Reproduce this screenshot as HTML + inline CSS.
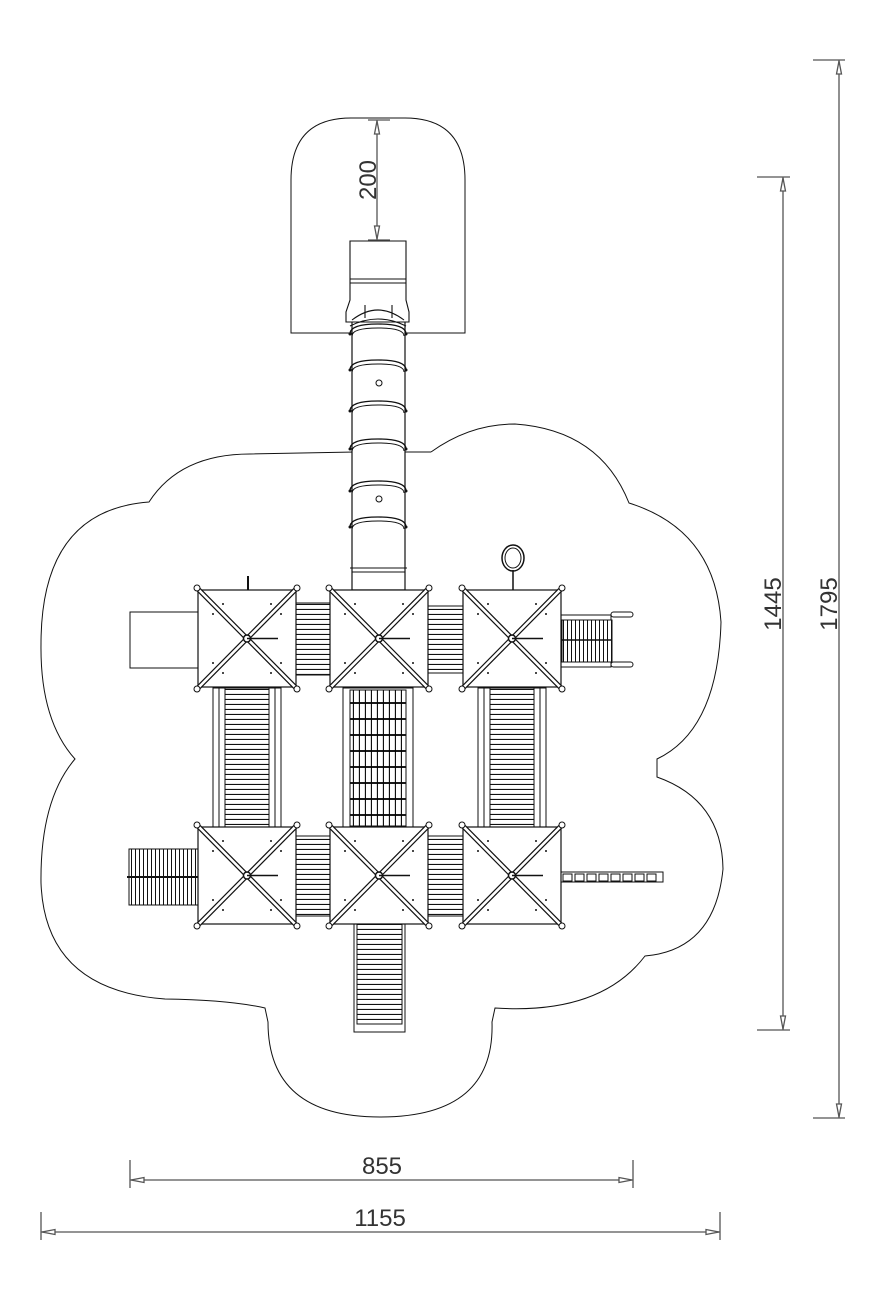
<!DOCTYPE html>
<html><head><meta charset="utf-8"><style>
html,body{margin:0;padding:0;background:#fff}
svg{display:block}
text{font-family:"Liberation Sans",sans-serif;font-size:24px;fill:#333;font-weight:normal}
</style></head><body>
<svg width="887" height="1299" viewBox="0 0 887 1299" xmlns="http://www.w3.org/2000/svg">
<defs>
<pattern id="hs" width="10" height="5" patternUnits="userSpaceOnUse"><rect width="10" height="5" fill="#fff"/><line x1="0" y1="4.5" x2="10" y2="4.5" stroke="#111" stroke-width="1.2"/></pattern>
<pattern id="vs" width="4" height="10" patternUnits="userSpaceOnUse"><rect width="4" height="10" fill="#fff"/><line x1="3.5" y1="0" x2="3.5" y2="10" stroke="#111" stroke-width="1"/></pattern>
<pattern id="grid" width="6" height="16" patternUnits="userSpaceOnUse"><rect width="6" height="16" fill="#fff"/><line x1="5.5" y1="0" x2="5.5" y2="16" stroke="#111" stroke-width="1.3"/><line x1="0" y1="15" x2="6" y2="15" stroke="#000" stroke-width="1.8"/></pattern>
<g id="tw">
<rect x="0" y="0" width="98" height="97" fill="#fff" stroke="#111" stroke-width="1.2"/>
<line x1="-1" y1="-2" x2="99" y2="99" stroke="#111" stroke-width="5"/>
<line x1="-1" y1="-2" x2="99" y2="99" stroke="#fff" stroke-width="2.6"/>
<line x1="99" y1="-2" x2="-1" y2="99" stroke="#111" stroke-width="5"/>
<line x1="99" y1="-2" x2="-1" y2="99" stroke="#fff" stroke-width="2.6"/>
<circle cx="-1" cy="-2" r="3" fill="#fff" stroke="#111"/><circle cx="99" cy="-2" r="3" fill="#fff" stroke="#111"/>
<circle cx="-1" cy="99" r="3" fill="#fff" stroke="#111"/><circle cx="99" cy="99" r="3" fill="#fff" stroke="#111"/>
<circle cx="49" cy="48.5" r="3.5" fill="#fff" stroke="#111" stroke-width="1.5"/>
<line x1="49" y1="48.5" x2="80" y2="48.5" stroke="#111" stroke-width="1.5"/>
<g fill="#111"><circle cx="25" cy="14" r="1"/><circle cx="73" cy="14" r="1"/><circle cx="15" cy="24" r="1"/><circle cx="83" cy="24" r="1"/><circle cx="15" cy="73" r="1"/><circle cx="83" cy="73" r="1"/><circle cx="25" cy="83" r="1"/><circle cx="73" cy="83" r="1"/></g>
</g>
<g id="ring"><path d="M-28,4 Q-28,-6 0,-6 Q28,-6 28,4" fill="none" stroke="#111" stroke-width="1.3"/><path d="M-26,6 Q-26,-2 0,-2 Q26,-2 26,6" fill="none" stroke="#111"/><circle cx="-28" cy="4" r="1.5" fill="#111"/><circle cx="28" cy="4" r="1.5" fill="#111"/></g>
</defs>
<g fill="none" stroke="#111" stroke-width="1">
<!-- safety zone top -->
<path d="M291,333 L291,180 Q291,118 351,118 L405,118 Q465,118 465,180 L465,333 Z"/>
<!-- cloud -->
<path d="M431,452 Q470,424 515,424 Q600,430 629,503 Q715,530 721,622 Q718,730 657,759 L657,777 Q722,800 723,869 Q715,950 645,956 Q600,1015 495,1008 L492,1022 Q495,1117 380,1117 Q268,1117 268,1022 L265,1008 Q230,1000 165,999 Q45,990 41,883 Q40,800 75,759 Q40,720 41,644 Q41,510 149,502 Q180,454 250,454 L355,452"/>
<line x1="402" y1="452" x2="431" y2="452"/>
</g>
<!-- tube -->
<rect x="352" y="320" width="53" height="270" fill="#fff" stroke="#111" stroke-width="1.2"/>
<use href="#ring" x="378" y="330"/><use href="#ring" x="378" y="366"/><use href="#ring" x="378" y="407"/><use href="#ring" x="378" y="445"/><use href="#ring" x="378" y="487"/><use href="#ring" x="378" y="523"/>
<circle cx="379" cy="383" r="3" fill="#fff" stroke="#111"/><circle cx="379" cy="499" r="3" fill="#fff" stroke="#111"/>
<line x1="350" y1="568" x2="407" y2="568" stroke="#111"/><line x1="352" y1="572" x2="405" y2="572" stroke="#111"/>
<!-- slide top -->
<g fill="#fff" stroke="#111" stroke-width="1.1">
<path d="M350,241 L406,241 L406,300 L409,312 L409,322 L346,322 L346,312 L350,300 Z"/>
<line x1="350" y1="279" x2="406" y2="279"/><line x1="350" y1="283" x2="406" y2="283"/>
<path d="M352,320 Q378,300 404,320" fill="none"/>
<path d="M350,326 Q378,312 406,326" fill="none"/>
<line x1="365" y1="305" x2="365" y2="318"/><line x1="392" y1="305" x2="392" y2="318"/>
</g>
<!-- bridges -->
<g stroke="#111" stroke-width="1">
<rect x="296" y="603" width="34" height="72" fill="url(#hs)"/>
<rect x="428" y="606" width="35" height="67" fill="url(#hs)"/>
<rect x="296" y="836" width="34" height="80" fill="url(#hs)"/>
<rect x="428" y="836" width="35" height="80" fill="url(#hs)"/>
<rect x="213" y="688" width="68" height="140" fill="#fff"/>
<rect x="225" y="688" width="44" height="140" fill="url(#hs)"/>
<line x1="219" y1="688" x2="219" y2="828"/><line x1="275" y1="688" x2="275" y2="828"/>
<rect x="343" y="688" width="70" height="140" fill="#fff"/>
<rect x="350" y="690" width="56" height="136" fill="url(#grid)"/>
<rect x="478" y="688" width="68" height="140" fill="#fff"/>
<rect x="490" y="688" width="44" height="140" fill="url(#hs)"/>
<line x1="484" y1="688" x2="484" y2="828"/><line x1="540" y1="688" x2="540" y2="828"/>
<rect x="130" y="612" width="70" height="56" fill="#fff"/>
<rect x="561" y="615" width="50" height="52" fill="#fff"/>
<rect x="562" y="620" width="50" height="42" fill="url(#vs)"/>
<line x1="561" y1="640" x2="611" y2="640" stroke-width="1.5"/>
<rect x="611" y="612" width="22" height="5" rx="2.5" fill="#fff"/><rect x="611" y="662" width="22" height="5" rx="2.5" fill="#fff"/>
<rect x="129" y="849" width="71" height="56" fill="url(#vs)"/>
<line x1="127" y1="877" x2="200" y2="877" stroke-width="2"/>
<rect x="561" y="872" width="102" height="10" fill="#fff"/>
<g fill="none"><rect x="563" y="874" width="9" height="7"/><rect x="575" y="874" width="9" height="7"/><rect x="587" y="874" width="9" height="7"/><rect x="599" y="874" width="9" height="7"/><rect x="611" y="874" width="9" height="7"/><rect x="623" y="874" width="9" height="7"/><rect x="635" y="874" width="9" height="7"/><rect x="647" y="874" width="9" height="7"/></g>
<rect x="354" y="924" width="51" height="108" fill="#fff"/>
<rect x="357" y="924" width="45" height="100" fill="url(#hs)"/>
<line x1="248" y1="576" x2="248" y2="590" stroke-width="2"/>
<line x1="513" y1="570" x2="513" y2="590" stroke-width="1.5"/>
<ellipse cx="513" cy="558" rx="11" ry="13" fill="none" stroke-width="1.5"/>
<ellipse cx="513" cy="558" rx="8" ry="10" fill="none"/>
</g>
<use href="#tw" x="198" y="590"/><use href="#tw" x="330" y="590"/><use href="#tw" x="463" y="590"/>
<use href="#tw" x="198" y="827"/><use href="#tw" x="330" y="827"/><use href="#tw" x="463" y="827"/>
<!-- dimensions -->
<g stroke="#555" stroke-width="1.3" fill="#fff">
<line x1="377" y1="120" x2="377" y2="240"/><line x1="368" y1="120" x2="390" y2="120"/><line x1="368" y1="240" x2="390" y2="240"/>
<path d="M377,121 L374.5,134 L379.5,134 Z"/><path d="M377,239 L374.5,226 L379.5,226 Z"/>
<line x1="783" y1="177" x2="783" y2="1030"/><line x1="757" y1="177" x2="790" y2="177"/><line x1="757" y1="1030" x2="790" y2="1030"/>
<path d="M783,178 L780.5,191 L785.5,191 Z"/><path d="M783,1029 L780.5,1016 L785.5,1016 Z"/>
<line x1="839" y1="60" x2="839" y2="1118"/><line x1="813" y1="60" x2="845" y2="60"/><line x1="813" y1="1118" x2="845" y2="1118"/>
<path d="M839,61 L836.5,74 L841.5,74 Z"/><path d="M839,1117 L836.5,1104 L841.5,1104 Z"/>
<line x1="130" y1="1180" x2="633" y2="1180"/><line x1="130" y1="1160" x2="130" y2="1188"/><line x1="633" y1="1160" x2="633" y2="1188"/>
<path d="M131,1180 L144,1177.5 L144,1182.5 Z"/><path d="M632,1180 L619,1177.5 L619,1182.5 Z"/>
<line x1="41" y1="1232" x2="720" y2="1232"/><line x1="41" y1="1212" x2="41" y2="1240"/><line x1="720" y1="1212" x2="720" y2="1240"/>
<path d="M42,1232 L55,1229.5 L55,1234.5 Z"/><path d="M719,1232 L706,1229.5 L706,1234.5 Z"/>
</g>
<text x="368" y="180" text-anchor="middle" transform="rotate(-90 368 180)" dy="8">200</text>
<text x="773" y="604" text-anchor="middle" transform="rotate(-90 773 604)" dy="8">1445</text>
<text x="829" y="604" text-anchor="middle" transform="rotate(-90 829 604)" dy="8">1795</text>
<text x="382" y="1174" text-anchor="middle">855</text>
<text x="380" y="1226" text-anchor="middle">1155</text>
</svg>
</body></html>
